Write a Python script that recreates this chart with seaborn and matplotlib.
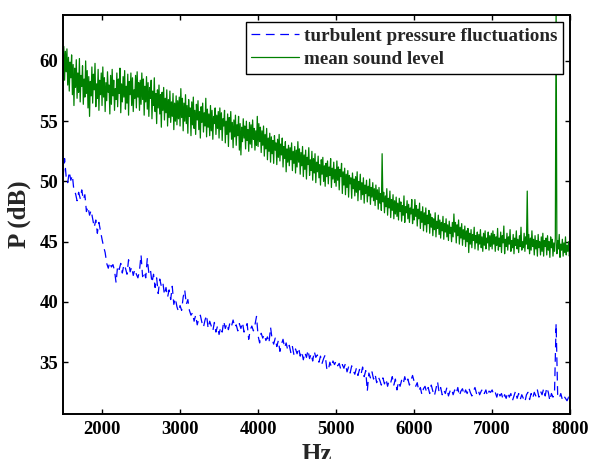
import seaborn as sns
import pandas as pd
import numpy as np
import matplotlib.pyplot as plt

# frequency grids (Hz)
freq_blue = np.arange(1500, 8001, 20)
freq_green = np.arange(1500, 8001, 10)

# turbulent pressure fluctuations (dB), every 20 Hz, 500 Hz per row
turbulent = (
    [50.3, 51.9, 50.4, 49.9, 50.8, 50.1, 50.5, 49.2, 49.0, 48.4, 49.1, 48.6, 49.3, 48.5, 48.9, 47.5, 47.9, 47.2, 47.6, 46.9, 46.2, 46.8, 45.7, 46.6, 45.9]
    + [45.2, 44.6, 44.1, 43.2, 42.8, 43.3, 42.9, 43.1, 42.6, 41.6, 43.0, 42.7, 43.2, 42.4, 43.1, 42.8, 42.3, 43.5, 42.5, 42.9, 42.2, 42.7, 42.3, 42.0, 42.6]
    + [43.9, 42.1, 42.5, 42.0, 43.6, 42.4, 42.7, 41.6, 42.3, 41.2, 42.0, 40.7, 41.9, 41.3, 41.6, 40.6, 41.2, 40.4, 41.0, 40.2, 41.3, 39.8, 40.3, 39.6, 39.2]
    + [39.7, 39.3, 40.4, 41.0, 39.8, 40.2, 39.3, 38.9, 39.1, 38.4, 38.9, 38.1, 38.6, 38.9, 38.3, 37.9, 38.5, 38.9, 37.8, 38.4, 38.0, 37.6, 38.3, 37.5, 38.0]
    + [37.3, 37.9, 37.5, 38.4, 37.8, 38.2, 37.7, 38.3, 38.0, 38.5, 37.9, 38.1, 37.6, 38.2, 37.8, 38.3, 37.5, 37.9, 38.2, 36.9, 37.7, 38.0, 37.6, 38.1, 38.8]
    + [37.2, 36.6, 37.4, 37.0, 37.3, 36.8, 37.1, 36.6, 37.9, 36.9, 36.5, 37.0, 36.3, 36.8, 35.9, 36.5, 36.9, 36.2, 36.6, 36.0, 36.4, 35.8, 36.3, 35.6, 36.1]
    + [35.7, 36.2, 35.5, 35.9, 35.2, 35.8, 35.4, 36.0, 35.3, 35.7, 35.1, 35.9, 35.4, 35.6, 35.0, 35.5, 34.9, 35.3, 35.6, 34.5, 34.3, 35.0, 34.6, 35.1, 34.8]
    + [35.1, 34.7, 34.9, 34.4, 34.8, 34.5, 34.9, 34.2, 34.6, 34.1, 34.7, 34.3, 34.0, 34.5, 33.9, 34.4, 34.0, 34.6, 33.8, 34.3, 32.6, 34.1, 33.7, 34.2, 33.6]
    + [34.0, 33.3, 33.8, 33.5, 33.1, 33.7, 33.2, 33.6, 33.0, 33.5, 33.3, 33.8, 33.1, 33.6, 32.7, 33.4, 33.0, 33.5, 33.2, 33.8, 33.3, 33.6, 33.1, 33.5, 33.9]
    + [33.4, 33.0, 33.3, 32.6, 32.9, 32.3, 32.8, 33.0, 32.5, 32.9, 32.4, 33.1, 32.6, 32.2, 32.8, 33.4, 32.5, 32.9, 32.3, 32.7, 32.4, 32.9, 32.2, 32.6, 32.8]
    + [32.3, 32.7, 32.4, 32.9, 32.2, 32.6, 32.8, 32.3, 32.7, 32.4, 32.9, 32.5, 32.2, 32.6, 32.9, 32.4, 32.7, 32.3, 32.6, 32.8, 32.4, 32.7, 32.2, 32.6, 32.5]
    + [32.7, 32.3, 32.5, 32.1, 32.6, 32.2, 32.4, 31.9, 32.3, 32.0, 32.5, 32.1, 32.4, 31.8, 32.2, 32.6, 32.0, 32.4, 31.9, 32.3, 32.0, 31.7, 32.3, 32.5, 31.9]
    + [32.4, 32.0, 32.5, 32.2, 32.7, 32.1, 32.6, 32.3, 32.8, 32.2, 32.9, 32.5, 31.8, 32.4, 32.1, 32.6, 38.2, 32.3, 32.0, 32.4, 31.9, 32.2, 32.0, 31.8, 32.1]
    + [31.9]
)

# mean sound level (dB), every 10 Hz, 500 Hz per row
mean_level = (
    [57.6, 61.2, 58.4, 60.8, 59.1, 61.0, 58.0, 60.3, 57.5, 59.9,
     58.6, 60.5, 57.2, 59.7, 56.3, 59.4, 57.8, 60.1, 56.9, 59.0,
     57.4, 60.2, 56.6, 58.8, 57.9, 59.6, 56.4, 58.5, 57.0, 60.0,
     57.3, 59.2, 56.1, 58.7, 55.4, 58.3, 57.1, 59.5, 56.5, 58.9,
     57.6, 59.8, 56.2, 58.1, 56.9, 59.3, 55.9, 58.4, 57.2, 59.0]
    + [56.3, 59.5, 57.0, 58.6, 55.8, 58.2, 56.7, 59.1, 57.4, 58.0,
       55.6, 58.8, 56.4, 59.3, 57.1, 58.4, 55.9, 57.7, 56.8, 59.0,
       56.2, 58.5, 57.3, 59.4, 55.7, 58.1, 56.6, 58.7, 57.0, 59.2,
       56.0, 57.9, 56.5, 58.9, 55.5, 58.3, 57.2, 59.0, 56.3, 58.6,
       55.8, 57.6, 56.9, 58.8, 56.1, 59.1, 57.0, 58.2, 55.9, 58.4]
    + [56.4, 59.0, 56.8, 58.5, 55.5, 57.9, 56.6, 58.7, 56.0, 58.2,
       55.4, 57.8, 56.9, 58.4, 55.2, 57.5, 56.3, 58.6, 55.8, 57.3,
       54.8, 57.6, 56.1, 58.0, 55.6, 57.2, 54.5, 57.4, 55.9, 57.8,
       55.1, 56.9, 55.7, 57.6, 54.6, 56.8, 55.3, 57.5, 54.9, 56.6,
       55.4, 57.3, 54.3, 56.5, 55.0, 57.1, 54.7, 56.7, 55.2, 57.0]
    + [54.6, 57.7, 55.3, 56.9, 54.2, 56.5, 55.0, 57.2, 54.8, 56.3,
       54.0, 56.8, 55.4, 56.1, 53.8, 56.6, 54.7, 57.0, 54.4, 55.9,
       53.9, 56.4, 55.1, 56.7, 54.3, 55.8, 53.6, 56.2, 54.9, 56.5,
       54.1, 55.7, 54.6, 56.9, 53.7, 56.0, 54.5, 55.6, 53.8, 56.3,
       54.2, 55.9, 53.5, 55.4, 54.8, 56.1, 53.9, 55.5, 54.4, 55.8]
    + [53.6, 56.1, 54.3, 55.7, 53.4, 55.2, 54.6, 55.9, 53.2, 55.0,
       53.9, 55.6, 52.9, 55.3, 54.1, 55.8, 53.5, 54.9, 52.8, 55.1,
       53.7, 55.5, 53.0, 54.7, 53.8, 55.4, 52.6, 54.8, 52.2, 54.5,
       53.3, 55.2, 53.6, 54.6, 52.7, 55.0, 53.4, 54.3, 52.5, 54.9,
       53.1, 54.7, 52.8, 55.1, 53.5, 54.4, 52.6, 54.2, 53.0, 55.4]
    + [52.9, 54.8, 53.3, 54.5, 52.4, 54.2, 53.0, 54.6, 52.1, 53.9,
       52.7, 54.4, 51.8, 53.6, 52.5, 54.0, 51.6, 53.7, 52.3, 53.4,
       51.5, 53.8, 52.6, 53.2, 51.4, 53.5, 52.0, 53.9, 51.7, 53.1,
       52.2, 53.6, 51.2, 52.9, 51.9, 53.3, 50.8, 52.7, 51.6, 53.0,
       51.3, 52.8, 51.8, 53.2, 50.9, 52.5, 51.5, 52.9, 50.7, 52.6]
    + [51.2, 53.3, 51.6, 52.7, 50.6, 52.4, 51.3, 52.9, 50.4, 52.2,
       51.0, 52.6, 50.2, 52.0, 51.4, 52.8, 50.5, 51.8, 50.9, 52.5,
       50.1, 51.9, 50.7, 52.3, 49.9, 51.6, 50.8, 52.1, 50.3, 51.4,
       49.7, 51.8, 50.6, 52.0, 50.0, 51.3, 49.6, 51.5, 50.4, 51.7,
       49.8, 51.2, 50.5, 51.9, 49.5, 51.1, 50.2, 51.6, 49.9, 51.0]
    + [49.6, 51.7, 50.1, 51.2, 49.3, 51.0, 50.4, 51.5, 49.0, 50.8,
       49.7, 51.1, 48.9, 50.6, 49.5, 50.9, 48.7, 50.5, 49.8, 50.3,
       48.6, 50.7, 49.4, 50.2, 48.8, 50.4, 49.1, 50.8, 48.4, 50.0,
       49.3, 50.6, 48.5, 49.9, 48.9, 50.3, 48.2, 49.7, 49.0, 50.1,
       48.3, 49.6, 48.8, 50.2, 48.1, 49.5, 48.7, 49.9, 48.4, 49.4]
    + [48.0, 49.7, 48.5, 49.3, 47.7, 49.5, 48.2, 49.0, 47.6, 52.3,
       48.3, 49.1, 47.4, 48.8, 47.9, 49.4, 47.2, 48.6, 47.8, 49.2,
       47.0, 48.5, 47.6, 48.9, 46.9, 48.4, 47.3, 48.7, 47.1, 48.2,
       46.8, 48.6, 47.5, 48.3, 46.7, 48.0, 47.2, 48.8, 46.6, 47.9,
       47.4, 48.4, 46.9, 48.1, 46.6, 47.8, 47.3, 48.5, 46.5, 47.7]
    + [46.8, 48.5, 47.1, 48.0, 46.3, 47.7, 46.9, 48.2, 46.1, 47.5,
       46.6, 47.9, 45.9, 47.4, 46.4, 47.8, 45.8, 47.2, 46.5, 47.6,
       45.7, 47.3, 46.2, 47.0, 45.5, 46.9, 46.0, 47.4, 45.4, 46.7,
       46.1, 47.2, 45.6, 46.8, 45.3, 46.6, 45.9, 47.1, 45.2, 46.5,
       45.8, 46.9, 45.4, 46.4, 45.1, 46.7, 45.7, 46.2, 45.0, 46.6]
    + [45.4, 47.3, 45.8, 46.6, 44.9, 46.4, 45.5, 46.8, 44.8, 46.2,
       45.3, 46.5, 44.7, 46.0, 45.2, 46.3, 44.6, 45.9, 45.0, 46.1,
       44.1, 45.7, 44.8, 46.0, 44.5, 45.6, 45.1, 46.2, 44.4, 45.5,
       44.9, 45.8, 44.3, 45.6, 44.8, 46.0, 44.5, 45.4, 44.2, 45.7,
       44.7, 45.9, 44.4, 45.3, 44.9, 45.8, 44.3, 45.5, 44.6, 45.7]
    + [44.4, 45.9, 44.8, 45.6, 44.2, 45.4, 44.7, 46.1, 44.3, 45.3,
       44.6, 45.8, 44.1, 45.5, 44.9, 46.3, 44.0, 45.2, 44.6, 45.7,
       44.3, 45.4, 44.8, 46.0, 44.2, 45.1, 44.5, 45.6, 44.0, 45.3,
       44.7, 45.9, 44.4, 45.2, 44.1, 45.5, 44.6, 46.2, 44.3, 45.0,
       44.5, 45.7, 44.2, 45.4, 44.8, 49.2, 44.4, 45.6, 44.0, 45.3]
    + [44.3, 45.9, 44.6, 45.2, 43.9, 45.5, 44.4, 45.1, 43.8, 45.6,
       44.5, 45.0, 43.9, 45.4, 44.2, 45.7, 43.8, 45.1, 44.6, 45.3,
       43.9, 45.5, 44.3, 45.0, 43.7, 45.4, 44.5, 45.2, 43.8, 44.9,
       44.2, 45.3, 64.5, 44.0, 45.1, 44.4, 45.6, 43.7, 44.8, 44.3,
       45.2, 43.8, 44.9, 44.1, 45.4, 43.9, 44.7, 44.2, 45.0, 43.8]
    + [44.3]
)

blue_df = pd.DataFrame({'Hz': freq_blue, 'P': turbulent})
green_df = pd.DataFrame({'Hz': freq_green, 'P': mean_level})

sns.set_style('ticks')
plt.rcParams['font.family'] = ['Liberation Serif', 'DejaVu Serif']
plt.rcParams['font.weight'] = 'bold'
plt.rcParams['axes.labelweight'] = 'bold'

fig = plt.figure(figsize=(5.89, 4.59), dpi=100)
ax = fig.add_axes([0.107, 0.098, 0.861, 0.869])

sns.lineplot(data=blue_df, x='Hz', y='P', ax=ax, color='#0000ff',
             linewidth=0.9, estimator=None, sort=False,
             label='turbulent pressure fluctuations')
sns.lineplot(data=green_df, x='Hz', y='P', ax=ax, color='#008000',
             linewidth=0.9, estimator=None, sort=False,
             label='mean sound level')
ax.lines[0].set_dashes((7, 4.5))

ax.set_xlim(1500, 8000)
ax.set_ylim(30.7, 63.8)
ax.set_xticks([2000, 3000, 4000, 5000, 6000, 7000, 8000])
ax.set_yticks([35, 40, 45, 50, 55, 60])

ax.tick_params(direction='in', top=True, right=True, length=3.6, width=1,
               labelsize=13.5, colors='black')
ax.tick_params(axis='x', pad=5)
ax.tick_params(axis='y', pad=3.5)
for side in ['left', 'right', 'top', 'bottom']:
    ax.spines[side].set_color('black')
    ax.spines[side].set_linewidth(1.4)

ax.set_xlabel('Hz', fontsize=18, labelpad=3.5)
ax.set_ylabel('P (dB)', fontsize=18, labelpad=6)

leg = ax.legend(loc='upper right', fontsize=13.8, fancybox=False,
                framealpha=1, edgecolor='black', borderaxespad=0.35,
                handlelength=2.5, handletextpad=0.25, labelspacing=0.3,
                borderpad=0.3)
leg.get_frame().set_linewidth(1)

plt.savefig('out.png', dpi=100)
